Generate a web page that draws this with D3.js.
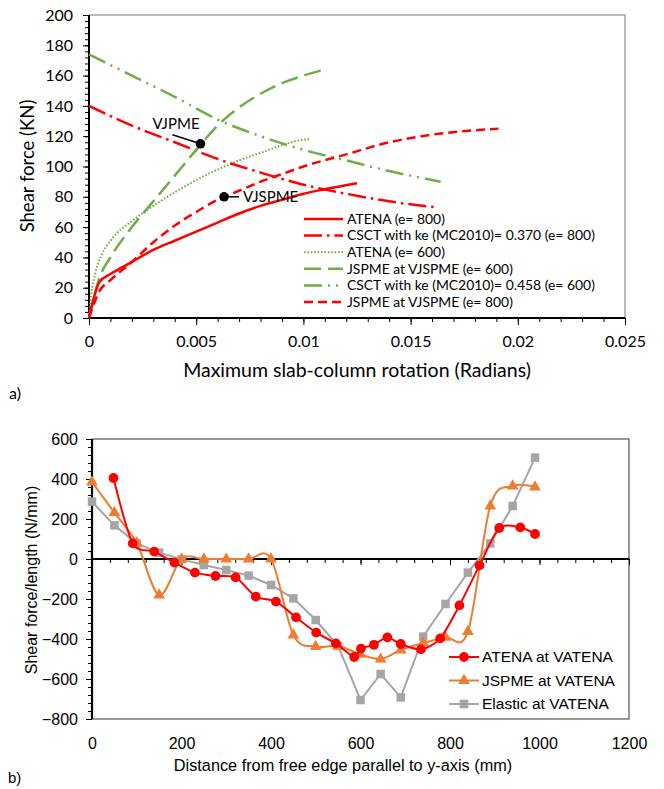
<!DOCTYPE html>
<meta charset="utf-8">
<style>
  body { margin: 0; background: #fff; }
  .ca text { font-family: Lato, "Open Sans", sans-serif; fill: #000; }
  .cb text { font-family: "Liberation Sans", Arial, sans-serif; fill: #000; }
  .domain { display: none; }
</style>
<body>
<svg width="664" height="789"></svg>
<script src="https://d3js.org/d3.v7.min.js"></script>
<script>

// ---------- chart a) : shear force vs rotation ----------
var atena800 = [[0,0],[0.0002,12],[0.0005,24],[0.001,29],[0.002,37],[0.003,45],[0.004,51],[0.005,57],[0.006,63],[0.007,69],[0.008,74],[0.009,78],[0.010,82],[0.011,85],[0.0125,89]];
var csct800 = [[0,140],[0.002,127],[0.004,116],[0.006,105],[0.008,96],[0.010,88],[0.012,82],[0.014,77],[0.0162,73]];
var atena600 = [[0,0],[0.0001,15],[0.0003,30],[0.0006,42],[0.001,51],[0.002,64],[0.003,74],[0.004,83],[0.005,91],[0.006,98],[0.007,104],[0.008,109],[0.009,114],[0.0097,117],[0.0103,118]];
var jspme600 = [[0,0],[0.0005,27],[0.001,40],[0.002,60],[0.003,77],[0.004,94],[0.005,111],[0.006,127],[0.007,139],[0.008,148],[0.009,155],[0.010,160],[0.011,164]];
var csct600 = [[0,174],[0.002,160],[0.004,146],[0.006,131],[0.008,120],[0.010,111],[0.012,104],[0.014,97],[0.0164,90]];
var jspme800 = [[0,0],[0.0005,18],[0.001,25],[0.002,37],[0.003,50],[0.004,61],[0.005,70],[0.006,78],[0.007,84],[0.008,90],[0.009,95],[0.010,100],[0.012,108],[0.014,116],[0.016,121],[0.0191,125]];
var seriesNamesA = ["ATENA (e= 800)", "CSCT with ke (MC2010)= 0.370 (e= 800)", "ATENA (e= 600)",
                    "JSPME at VJSPME (e= 600)", "CSCT with ke (MC2010)= 0.458 (e= 600)", "JSPME at VJSPME (e= 800)"];
var xTicksA = [0, 0.005, 0.01, 0.015, 0.02, 0.025];
var yTicksA = [0, 20, 40, 60, 80, 100, 120, 140, 160, 180, 200];
var pointVJPME = [0.0052, 115];
var pointVJSPME = [0.0063, 80];

// ---------- chart b) : shear force along the edge ----------
var xAtena = [48, 91, 139, 184, 230, 276, 321, 366, 411, 456, 501, 545, 586, 601, 630, 660, 690, 735, 778, 821, 866, 910, 957, 990];
var yAtena = [405, 78, 37, -18, -68, -85, -92, -188, -213, -292, -368, -422, -490, -448, -429, -392, -425, -452, -397, -232, -32, 155, 158, 125];
var xJspme = [0, 50, 100, 150, 200, 250, 300, 350, 400, 450, 500, 550, 600, 645, 690, 740, 790, 840, 890, 940, 990];
var yJspme = [385, 232, 80, -180, 0, 0, 0, 0, 0, -380, -438, -435, -477, -500, -455, -420, -392, -363, 265, 365, 360];
var xElastic = [0, 50, 100, 150, 200, 250, 300, 350, 400, 450, 500, 550, 600, 645, 690, 740, 790, 840, 890, 940, 990];
var yElastic = [287, 168, 78, 32, -2, -30, -55, -83, -130, -197, -305, -435, -705, -575, -692, -388, -225, -68, 78, 265, 507];
var seriesNamesB = ["ATENA at VATENA", "JSPME at VATENA", "Elastic at VATENA"];
var xTicksB = [0, 200, 400, 600, 800, 1000, 1200];
var yTicksB = [-800, -600, -400, -200, 0, 200, 400, 600];

var svg = d3.select("svg");

// ================= chart a =================
var ga = svg.append("g").attr("class", "ca");
var xa = d3.scaleLinear().domain([0, 0.025]).range([89, 625]);
var ya = d3.scaleLinear().domain([0, 200]).range([318, 15]);

ga.append("rect").attr("x", 89).attr("y", 15).attr("width", 536).attr("height", 303)
    .attr("fill", "none").attr("stroke", "#8c8c8c").attr("stroke-width", 1.2);

// minor ticks
ga.append("g").attr("transform", "translate(0,318)")
    .call(d3.axisBottom(xa).tickValues(d3.range(0, 26).map(function(i){ return i / 1000; }))
        .tickSize(4).tickFormat(""))
    .selectAll("line").attr("stroke", "#000");
ga.append("g").attr("transform", "translate(89,0)")
    .call(d3.axisLeft(ya).tickValues(d3.range(0, 51).map(function(i){ return i * 4; }))
        .tickSize(4).tickFormat(""))
    .selectAll("line").attr("stroke", "#000");

var axA = ga.append("g").attr("transform", "translate(0,318)")
    .call(d3.axisBottom(xa).tickValues(xTicksA).tickSize(7).tickPadding(11)
        .tickFormat(function(d){ return d === 0 ? "0" : String(+d.toFixed(3)); }));
axA.selectAll("text").style("font-size", "16px");
axA.selectAll("line").attr("stroke", "#000");

var ayA = ga.append("g").attr("transform", "translate(89,0)")
    .call(d3.axisLeft(ya).tickValues(yTicksA).tickSize(6).tickPadding(10));
ayA.selectAll("text").style("font-size", "16px");
ayA.selectAll("line").attr("stroke", "#000");

ga.append("line").attr("x1", 89).attr("x2", 625).attr("y1", 318).attr("y2", 318)
    .attr("stroke", "#000").attr("stroke-width", 2);
ga.append("line").attr("x1", 89).attr("x2", 89).attr("y1", 15).attr("y2", 318)
    .attr("stroke", "#000").attr("stroke-width", 2);

var stylesA = [
    {color: "#ff0000", dash: null, w: 2.5},
    {color: "#ff0000", dash: "18,5,2.5,5", w: 2.5},
    {color: "#70ad47", dash: "1.6,1.8", w: 2},
    {color: "#70ad47", dash: "17,7", w: 2.5},
    {color: "#70ad47", dash: "18,6,2,6,2,6", w: 2.5},
    {color: "#ff0000", dash: "9,5", w: 2.5}
];
var dataA = [atena800, csct800, atena600, jspme600, csct600, jspme800];

var lineA = d3.line()
    .x(function(d){ return xa(d[0]); })
    .y(function(d){ return ya(d[1]); })
    .curve(d3.curveMonotoneX);

// draw order so the red solid sits on top
[2, 4, 1, 3, 5, 0].forEach(function(i){
    ga.append("path").datum(dataA[i])
        .attr("d", lineA)
        .attr("fill", "none")
        .attr("stroke", stylesA[i].color)
        .attr("stroke-width", stylesA[i].w)
        .attr("stroke-dasharray", stylesA[i].dash);
});

// annotations
function annotate(pt, lx, ly, tx, ty, label) {
    var px = xa(pt[0]), py = ya(pt[1]);
    ga.append("line").attr("x1", px + lx).attr("y1", py + ly).attr("x2", px).attr("y2", py)
        .attr("stroke", "#000").attr("stroke-width", 1.5);
    ga.append("circle").attr("cx", px).attr("cy", py).attr("r", 4.8).attr("fill", "#000");
    ga.append("text").attr("x", px + tx).attr("y", py + ty).attr("dy", "0.35em")
        .style("font-size", "15px").text(label);
}
annotate(pointVJPME, -28, -9, -48, -20, "VJPME");
annotate(pointVJSPME, 15, 0, 19, 0, "VJSPME");

// legend a
var legA = ga.append("g");
seriesNamesA.forEach(function(name, i){
    var y = 219 + i * 16.6;
    legA.append("line").attr("x1", 304).attr("x2", 343).attr("y1", y).attr("y2", y)
        .attr("stroke", stylesA[i].color).attr("stroke-width", stylesA[i].w)
        .attr("stroke-dasharray", stylesA[i].dash);
    legA.append("text").attr("x", 347).attr("y", y).attr("dy", "0.35em")
        .style("font-size", "13.9px").text(name);
});

ga.append("text").attr("x", 357).attr("y", 370).attr("text-anchor", "middle")
    .attr("dy", "0.35em").style("font-size", "19.5px")
    .text("Maximum slab-column rotation (Radians)");
ga.append("text").attr("transform", "translate(28,166) rotate(-90)")
    .attr("text-anchor", "middle").attr("dy", "0.35em").style("font-size", "18.5px")
    .text("Shear force (KN)");
ga.append("text").attr("x", 9).attr("y", 393).attr("dy", "0.35em")
    .style("font-size", "16px").text("a)");

// ================= chart b =================
var gb = svg.append("g").attr("class", "cb");
var xb = d3.scaleLinear().domain([0, 1200]).range([92, 629]);
var yb = d3.scaleLinear().domain([-800, 600]).range([719, 439]);

gb.append("rect").attr("x", 92).attr("y", 439).attr("width", 537).attr("height", 280)
    .attr("fill", "none").attr("stroke", "#555").attr("stroke-width", 1.2);

// ticks on the zero line
gb.append("g").attr("transform", "translate(0," + yb(0) + ")")
    .call(d3.axisBottom(xb).tickValues(d3.range(0, 31).map(function(i){ return i * 40; }))
        .tickSize(4).tickFormat(""))
    .selectAll("line").attr("stroke", "#000");
gb.append("g").attr("transform", "translate(0," + yb(0) + ")")
    .call(d3.axisBottom(xb).tickValues(xTicksB).tickSize(6).tickFormat(""))
    .selectAll("line").attr("stroke", "#000");

gb.append("g").attr("transform", "translate(92,0)")
    .call(d3.axisLeft(yb).tickValues(d3.range(-20, 16).map(function(i){ return i * 40; }))
        .tickSize(4).tickFormat(""))
    .selectAll("line").attr("stroke", "#000");
var ayB = gb.append("g").attr("transform", "translate(92,0)")
    .call(d3.axisLeft(yb).tickValues(yTicksB).tickSize(6).tickPadding(8).tickFormat(d3.format("d")));
ayB.selectAll("text").style("font-size", "16px");
ayB.selectAll("line").attr("stroke", "#000");

var axB = gb.append("g").attr("transform", "translate(0,719)")
    .call(d3.axisBottom(xb).tickValues(xTicksB).tickSize(0).tickPadding(19).tickFormat(d3.format("d")));
axB.selectAll("text").style("font-size", "16px");

gb.append("line").attr("x1", 92).attr("x2", 629).attr("y1", yb(0)).attr("y2", yb(0))
    .attr("stroke", "#000").attr("stroke-width", 2.2);
gb.append("line").attr("x1", 92).attr("x2", 92).attr("y1", 439).attr("y2", 719)
    .attr("stroke", "#000").attr("stroke-width", 2.2);

var stylesB = [
    {color: "#ff0000", marker: d3.symbolCircle, size: 75, curve: d3.curveCardinal.tension(0.2)},
    {color: "#ed7d31", marker: d3.symbolTriangle, size: 60, curve: d3.curveCatmullRom.alpha(0)},
    {color: "#a5a5a5", marker: d3.symbolSquare, size: 72, curve: d3.curveLinear}
];
var dataB = [d3.zip(xAtena, yAtena), d3.zip(xJspme, yJspme), d3.zip(xElastic, yElastic)];

[2, 1, 0].forEach(function(i){
    var st = stylesB[i];
    var ln = d3.line().x(function(d){ return xb(d[0]); }).y(function(d){ return yb(d[1]); }).curve(st.curve);
    gb.append("path").datum(dataB[i]).attr("d", ln)
        .attr("fill", "none").attr("stroke", st.color).attr("stroke-width", 2);
    gb.append("g").selectAll("path").data(dataB[i]).enter().append("path")
        .attr("transform", function(d){ return "translate(" + xb(d[0]) + "," + yb(d[1]) + ")"; })
        .attr("d", d3.symbol().type(st.marker).size(st.size))
        .attr("fill", st.color);
});

// legend b
seriesNamesB.forEach(function(name, i){
    var y = 657 + i * 23.5, st = stylesB[i];
    gb.append("line").attr("x1", 449).attr("x2", 479).attr("y1", y).attr("y2", y)
        .attr("stroke", st.color).attr("stroke-width", 2);
    gb.append("path").attr("transform", "translate(464," + y + ")")
        .attr("d", d3.symbol().type(st.marker).size(st.size)).attr("fill", st.color);
    gb.append("text").attr("x", 482).attr("y", y).attr("dy", "0.35em")
        .style("font-size", "15.5px").text(name);
});

gb.append("text").attr("x", 343).attr("y", 765).attr("text-anchor", "middle")
    .attr("dy", "0.35em").style("font-size", "16.3px")
    .text("Distance from free edge parallel to y-axis (mm)");
gb.append("text").attr("transform", "translate(31,580) rotate(-90)")
    .attr("text-anchor", "middle").attr("dy", "0.35em").style("font-size", "16px")
    .text("Shear force/length (N/mm)");
gb.append("text").attr("x", 8).attr("y", 778).attr("dy", "0.35em")
    .style("font-size", "15px").text("b)");

</script>
</body>
